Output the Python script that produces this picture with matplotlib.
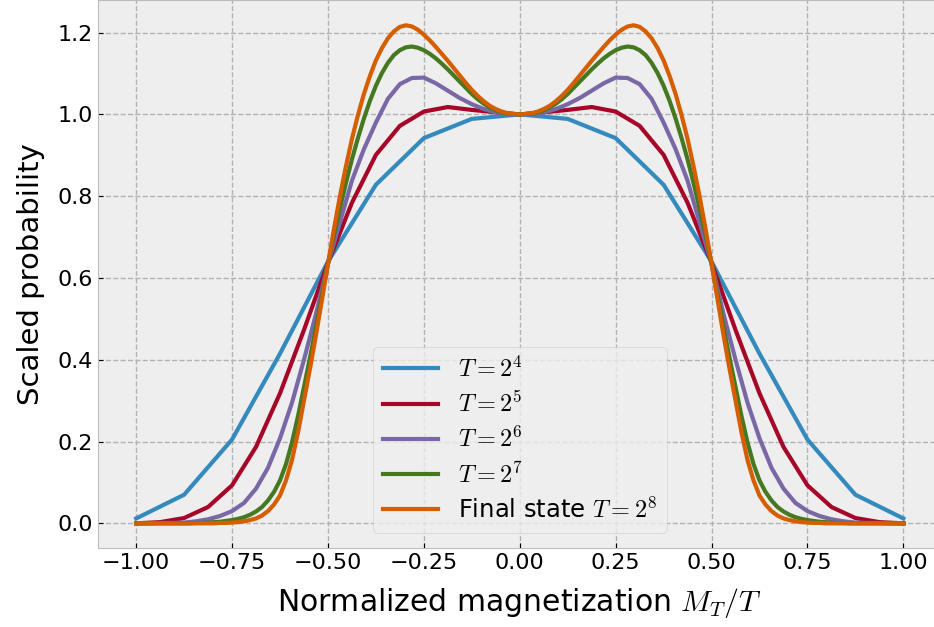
import matplotlib
matplotlib.use("Agg")
import matplotlib.pyplot as plt
import numpy as np

plt.style.use("bmh")
plt.rcParams["mathtext.fontset"] = "cm"

# T = 2^4 : 17 points on [-1, 1]
x16 = np.linspace(-1, 1, 17)
p16 = [0.012, 0.070, 0.205, 0.415, 0.640, 0.828, 0.942, 0.989, 1.000,
       0.989, 0.942, 0.828, 0.640, 0.415, 0.205, 0.070, 0.012]

# T = 2^5 : 33 points
x32 = np.linspace(-1, 1, 33)
p32 = [0.000, 0.003, 0.013, 0.040, 0.093, 0.187, 0.318, 0.473, 0.637,
       0.784, 0.901, 0.972, 1.007, 1.018, 1.011, 1.005, 1.000,
       1.005, 1.011, 1.018, 1.007, 0.972, 0.901, 0.784, 0.637,
       0.473, 0.318, 0.187, 0.093, 0.040, 0.013, 0.003, 0.000]

# T = 2^6 : 65 points
x64 = np.linspace(-1, 1, 65)
p64 = [0.000, 0.000, 0.001, 0.001, 0.002, 0.005, 0.010, 0.018, 0.030,
       0.050, 0.085, 0.136, 0.208, 0.295, 0.400, 0.512, 0.635, 0.736,
       0.838, 0.915, 0.980, 1.038, 1.074, 1.089, 1.090, 1.076, 1.058,
       1.040, 1.025, 1.013, 1.005, 1.001, 1.000,
       1.001, 1.005, 1.013, 1.025, 1.040, 1.058, 1.076, 1.090, 1.089,
       1.074, 1.038, 0.980, 0.915, 0.838, 0.736, 0.635, 0.512, 0.400,
       0.295, 0.208, 0.136, 0.085, 0.050, 0.030, 0.018, 0.010, 0.005,
       0.002, 0.001, 0.001, 0.000, 0.000]

# T = 2^7 and final state T = 2^8 : read at steps of 1/64
xf = np.linspace(-1, 1, 129)
p128 = [0.000, 0.000, 0.000, 0.000, 0.000, 0.000, 0.000, 0.000,
        0.000, 0.000, 0.001, 0.001, 0.002, 0.003, 0.004, 0.006,
        0.008, 0.011, 0.015, 0.021, 0.029, 0.040, 0.056, 0.077,
        0.105, 0.145, 0.198, 0.262, 0.333, 0.405, 0.480, 0.557,
        0.635, 0.705, 0.770, 0.832, 0.890, 0.942, 0.990, 1.033,
        1.070, 1.101, 1.126, 1.145, 1.157, 1.164, 1.166, 1.163,
        1.157, 1.148, 1.137, 1.124, 1.110, 1.095, 1.080, 1.065,
        1.050, 1.037, 1.026, 1.017, 1.010, 1.005, 1.002, 1.001,
        1.000,
        1.001, 1.002, 1.005, 1.010, 1.017, 1.026, 1.037, 1.050,
        1.065, 1.080, 1.095, 1.110, 1.124, 1.137, 1.148, 1.157,
        1.163, 1.166, 1.164, 1.157, 1.145, 1.126, 1.101, 1.070,
        1.033, 0.990, 0.942, 0.890, 0.832, 0.770, 0.705, 0.635,
        0.557, 0.480, 0.405, 0.333, 0.262, 0.198, 0.145, 0.105,
        0.077, 0.056, 0.040, 0.029, 0.021, 0.015, 0.011, 0.008,
        0.006, 0.004, 0.003, 0.002, 0.001, 0.001, 0.000, 0.000,
        0.000, 0.000, 0.000, 0.000, 0.000, 0.000, 0.000, 0.000]
p256 = [0.000, 0.000, 0.000, 0.000, 0.000, 0.000, 0.000, 0.000,
        0.000, 0.000, 0.000, 0.000, 0.000, 0.000, 0.001, 0.001,
        0.002, 0.003, 0.005, 0.008, 0.012, 0.019, 0.030, 0.046,
        0.068, 0.105, 0.155, 0.222, 0.300, 0.378, 0.460, 0.547,
        0.635, 0.720, 0.800, 0.873, 0.940, 0.998, 1.050, 1.094,
        1.132, 1.162, 1.186, 1.203, 1.214, 1.218, 1.215, 1.207,
        1.195, 1.181, 1.165, 1.148, 1.131, 1.113, 1.095, 1.077,
        1.060, 1.045, 1.032, 1.021, 1.013, 1.007, 1.003, 1.001,
        1.000,
        1.001, 1.003, 1.007, 1.013, 1.021, 1.032, 1.045, 1.060,
        1.077, 1.095, 1.113, 1.131, 1.148, 1.165, 1.181, 1.195,
        1.207, 1.215, 1.218, 1.214, 1.203, 1.186, 1.162, 1.132,
        1.094, 1.050, 0.998, 0.940, 0.873, 0.800, 0.720, 0.635,
        0.547, 0.460, 0.378, 0.300, 0.222, 0.155, 0.105, 0.068,
        0.046, 0.030, 0.019, 0.012, 0.008, 0.005, 0.003, 0.002,
        0.001, 0.001, 0.000, 0.000, 0.000, 0.000, 0.000, 0.000,
        0.000, 0.000, 0.000, 0.000, 0.000, 0.000, 0.000, 0.000]

labels = [r"$T=2^4$", r"$T=2^5$", r"$T=2^6$", r"$T=2^7$", r"Final state $T=2^8$"]

W, H = 934, 627
fig = plt.figure(figsize=(W / 100, H / 100), dpi=100, facecolor="white")
ax = fig.add_axes([97.8 / W, 1 - 548.3 / H, (941.7 - 97.8) / W, 548.0 / H])

for xs, ys, lab in zip([x16, x32, x64, xf, xf], [p16, p32, p64, p128, p256], labels):
    ax.plot(xs, ys, linewidth=3.0, label=lab)

ax.set_xlim(-1.1, 1.1)
ax.set_ylim(-0.061, 1.279)
ax.set_xticks([-1.0, -0.75, -0.5, -0.25, 0.0, 0.25, 0.5, 0.75, 1.0])
ax.set_yticks([0.0, 0.2, 0.4, 0.6, 0.8, 1.0, 1.2])
ax.tick_params(labelsize=16)
ax.grid(True, linestyle="--", linewidth=1.0, color="#b2b2b2")
ax.set_xlabel(r"Normalized magnetization $M_T/T$", fontsize=21.5, labelpad=9)
ax.set_ylabel("Scaled probability", fontsize=21, labelpad=9)
ax.legend(loc="lower center", fontsize=17.5, handlelength=2.3,
          labelspacing=0.4, borderaxespad=0.65)

fig.savefig("out.png", dpi=100)
